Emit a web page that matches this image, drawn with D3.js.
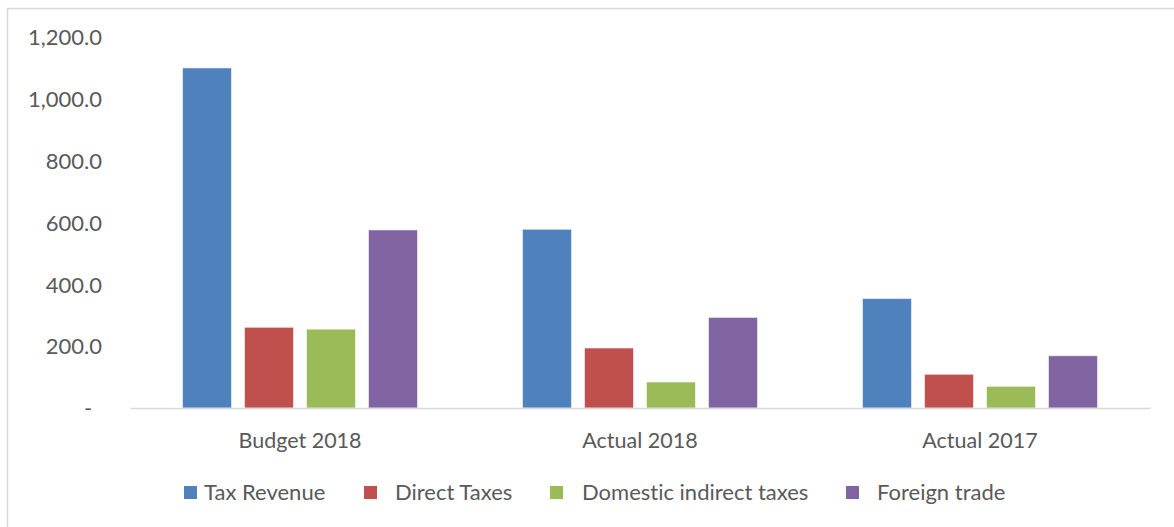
<!DOCTYPE html>
<html>
<head>
<meta charset="utf-8">
<script src="https://cdn.jsdelivr.net/npm/d3@7"></script>
<style>
  html, body { margin: 0; padding: 0; background: #fff; }
  svg { display: block; }
  text { font-family: Lato, "Open Sans", sans-serif; fill: #595959; font-variant-ligatures: none; }
</style>
</head>
<body>
<svg id="chart" width="1174" height="527"></svg>
<script>
// Tax revenue by period
const categories = ["Budget 2018", "Actual 2018", "Actual 2017"];
const seriesNames = ["Tax Revenue", "Direct Taxes", "Domestic indirect taxes", "Foreign trade"];
const taxRevenue = [1100, 578, 354];
const directTaxes = [261, 194, 109];
const domesticIndirect = [255, 84, 70];
const foreignTrade = [576, 293, 169];
const yTicks = [0, 200, 400, 600, 800, 1000, 1200];
const colors = ["#4F81BD", "#C0504D", "#9BBB59", "#8064A2"];

const seriesValues = [taxRevenue, directTaxes, domesticIndirect, foreignTrade];
const rows = categories.map((c, i) => ({
  category: c,
  values: seriesNames.map((s, j) => ({ series: s, value: seriesValues[j][i] }))
}));

const svg = d3.select("#chart");
const W = 1174, H = 527;
const plot = { left: 130, right: 1150, top: 37, bottom: 408 };

// Outer chart border (extends past the right and bottom edges)
svg.append("rect")
  .attr("x", 7.5).attr("y", 8.5)
  .attr("width", W + 20).attr("height", H + 20)
  .attr("fill", "none").attr("stroke", "#d9d9d9").attr("stroke-width", 1.5);

const x0 = d3.scaleBand().domain(categories).range([plot.left, plot.right]).padding(0);
const x1 = d3.scaleBand().domain(seriesNames).range([0, x0.bandwidth()])
  .paddingInner(0.21).paddingOuter(0.847);
const y = d3.scaleLinear().domain([0, 1200]).range([plot.bottom, plot.top]);
const color = d3.scaleOrdinal().domain(seriesNames).range(colors);

// Y axis labels (no axis line, no ticks)
const fmt = d3.format(",.1f");
const yAxis = d3.axisLeft(y).tickValues(yTicks)
  .tickFormat(d => d === 0 ? "-" : fmt(d)).tickSize(0).tickPadding(0);
const gy = svg.append("g").attr("transform", "translate(102,0)").call(yAxis);
gy.select(".domain").remove();
gy.selectAll("text")
  .style("font-family", "Lato, sans-serif").style("font-size", "22px").attr("fill", "#595959")
  .attr("dy", "0.35em");
gy.selectAll(".tick").filter(d => d === 0).select("text")
  .attr("text-anchor", "middle").attr("x", -14);

// Bars
const groups = svg.append("g").selectAll("g").data(rows).join("g")
  .attr("transform", d => `translate(${x0(d.category)},0)`);
groups.selectAll("rect").data(d => d.values).join("rect")
  .attr("x", d => x1(d.series))
  .attr("y", d => y(d.value))
  .attr("width", x1.bandwidth())
  .attr("height", d => y(0) - y(d.value))
  .attr("fill", d => color(d.series))
  .attr("stroke", "rgba(255,255,255,0.55)")
  .attr("stroke-width", 1);

// Category axis line and labels
const xAxis = d3.axisBottom(x0).tickSize(0).tickPadding(0);
const gx = svg.append("g").attr("transform", `translate(0,${plot.bottom})`).call(xAxis);
gx.select(".domain").attr("stroke", "#d9d9d9").attr("stroke-width", 1.5);
gx.selectAll("text")
  .style("font-family", "Lato, sans-serif").style("font-size", "21.5px").attr("fill", "#595959")
  .attr("y", 40).attr("dy", 0);

// Legend
const legendX = [184, 364, 550, 846];
const legendTextX = [204, 395, 582, 877];
const legend = svg.append("g").selectAll("g").data(seriesNames).join("g");
legend.append("rect")
  .attr("x", (d, i) => legendX[i]).attr("y", 486)
  .attr("width", 13).attr("height", 13)
  .attr("fill", d => color(d));
legend.append("text")
  .attr("x", (d, i) => legendTextX[i]).attr("y", 500)
  .style("font-size", "22px")
  .text(d => d);
</script>
</body>
</html>
